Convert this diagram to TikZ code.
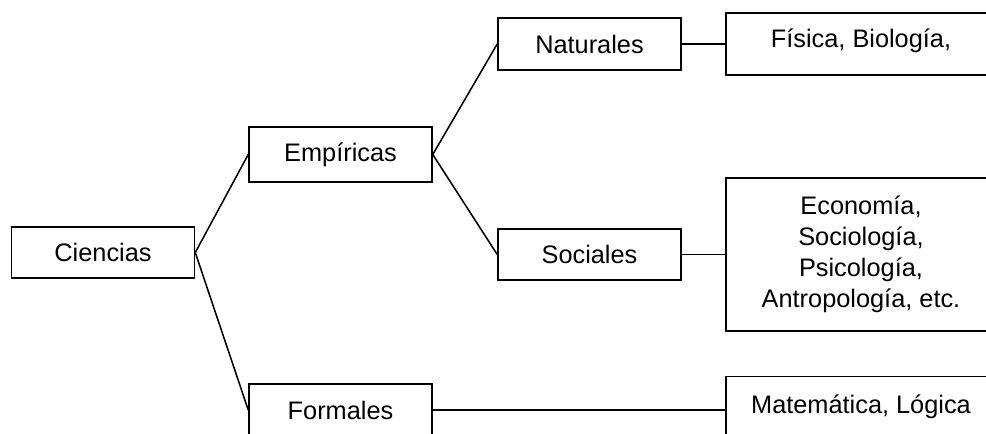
\documentclass[tikz,border=0pt]{standalone}
\usepackage{fontspec}
\setmainfont{Liberation Sans}
\tikzstyle{caja}=[draw,line width=1.15pt,inner sep=0pt,minimum width=137.25pt,font=\fontsize{19}{23.25}\selectfont]
\tikzstyle{cajaancha}=[caja,minimum width=202.5pt,align=center]
\tikzstyle{rama}=[line width=1.15pt]
\begin{document}
\begin{tikzpicture}[x=0.75pt,y=-0.75pt]
	\useasboundingbox (0,0) rectangle (986,434);
	\clip (0,0) rectangle (986,434);
	% primer nivel
	\node[caja,minimum height=38.25pt] (ciencias) at (103,252.5) {Ciencias};
	% segundo nivel
	\node[caja,minimum height=41.25pt] (empiricas) at (340.5,154.5) {Empíricas};
	\node[caja,minimum height=39pt] (formales) at (340.5,410) {Formales};
	% tercer nivel
	\node[caja,minimum height=39pt] (naturales) at (589.5,44) {Naturales};
	\node[caja,minimum height=38.25pt] (sociales) at (589.5,254.5) {Sociales};
	% ejemplos
	\node[cajaancha,minimum height=46.5pt,text depth=9pt] (fisica) at (861,44) {Física, Biología,};
	\node[cajaancha,minimum height=114.75pt] (economia) at (861,254.5) {Economía,\\ Sociología,\\ Psicología,\\ Antropología, etc.};
	\node[cajaancha,minimum height=50pt,text depth=8pt] (matematica) at (861,410) {Matemática, Lógica};
	\draw[rama] (ciencias.east) -- (empiricas.west);
	\draw[rama] (ciencias.east) -- (formales.west);
	\draw[rama] (empiricas.east) -- (naturales.west);
	\draw[rama] (empiricas.east) -- (sociales.west);
	\draw[rama] (naturales.east) -- (fisica.west);
	\draw[rama] (sociales.east) -- (economia.west);
	\draw[rama] (formales.east) -- (matematica.west);
\end{tikzpicture}
\end{document}
